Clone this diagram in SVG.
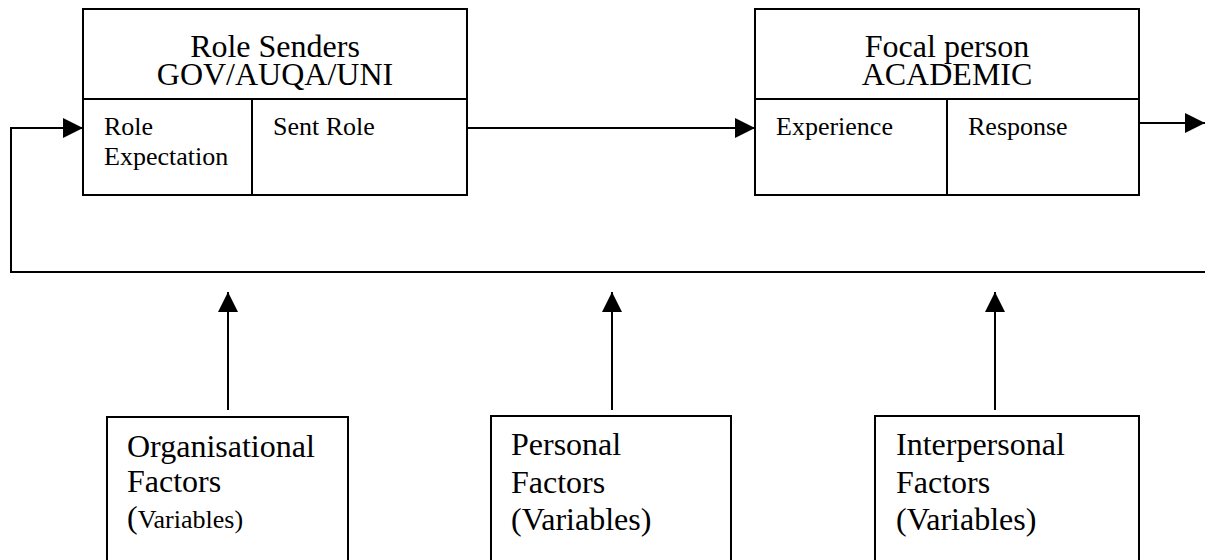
<svg xmlns="http://www.w3.org/2000/svg" width="1205" height="560" viewBox="0 0 1205 560">
  <defs>
    <style>
      .box { fill: #ffffff; stroke: #000000; stroke-width: 2; }
      .div { stroke: #000000; stroke-width: 2; fill: none; }
      .conn { stroke: #000000; stroke-width: 2; fill: none; }
      text { font-family: "Liberation Serif", "Times New Roman", serif; fill: #000000; }
      .title { font-size: 32px; text-anchor: middle; }
      .cell { font-size: 26px; }
      .factor { font-size: 32px; }
    </style>
    <marker id="arrow" markerUnits="userSpaceOnUse" markerWidth="20" markerHeight="20" viewBox="0 0 20 20" refX="20" refY="10" orient="auto">
      <path d="M0,0 L20,10 L0,20 Z" fill="#000000"/>
    </marker>
  </defs>
  <rect width="1205" height="560" fill="#ffffff"/>

  <g id="role-senders">
    <rect class="box" x="83" y="9" width="384" height="186"/>
    <line class="div" x1="83" y1="99" x2="467" y2="99"/>
    <line class="div" x1="252" y1="99" x2="252" y2="195"/>
    <text class="title" x="275" y="57">Role Senders</text>
    <text class="title" x="275" y="85">GOV/AUQA/UNI</text>
    <text class="cell" x="104" y="135">Role</text>
    <text class="cell" x="104" y="165">Expectation</text>
    <text class="cell" x="273" y="135">Sent Role</text>
  </g>

  <g id="focal-person">
    <rect class="box" x="755" y="9" width="384" height="186"/>
    <line class="div" x1="755" y1="99" x2="1139" y2="99"/>
    <line class="div" x1="947" y1="99" x2="947" y2="195"/>
    <text class="title" x="947" y="57">Focal person</text>
    <text class="title" x="947" y="85">ACADEMIC</text>
    <text class="cell" x="776" y="135">Experience</text>
    <text class="cell" x="968" y="135">Response</text>
  </g>

  <g id="organisational-factors">
    <rect class="box" x="107" y="417" width="241" height="150"/>
    <text class="factor" x="127" y="457">Organisational</text>
    <text class="factor" x="127" y="492">Factors</text>
    <text class="factor" x="127" y="528">(<tspan font-size="26">Variables)</tspan></text>
  </g>

  <g id="personal-factors">
    <rect class="box" x="491" y="416" width="240" height="150"/>
    <text class="factor" x="511" y="455">Personal</text>
    <text class="factor" x="511" y="493">Factors</text>
    <text class="factor" x="511" y="530">(Variables)</text>
  </g>

  <g id="interpersonal-factors">
    <rect class="box" x="875" y="416" width="264" height="150"/>
    <text class="factor" x="896" y="455">Interpersonal</text>
    <text class="factor" x="896" y="493">Factors</text>
    <text class="factor" x="896" y="530">(Variables)</text>
  </g>

  <g id="connectors">
    <line class="conn" x1="467" y1="128" x2="755" y2="128" marker-end="url(#arrow)"/>
    <line class="conn" x1="1139" y1="123" x2="1205" y2="123" marker-end="url(#arrow)"/>
    <polyline class="conn" points="1205,272 11,272 11,128 83,128" marker-end="url(#arrow)"/>
    <line class="conn" x1="228" y1="410" x2="228" y2="292" marker-end="url(#arrow)"/>
    <line class="conn" x1="612" y1="410" x2="612" y2="292" marker-end="url(#arrow)"/>
    <line class="conn" x1="995" y1="410" x2="995" y2="292" marker-end="url(#arrow)"/>
  </g>
</svg>
